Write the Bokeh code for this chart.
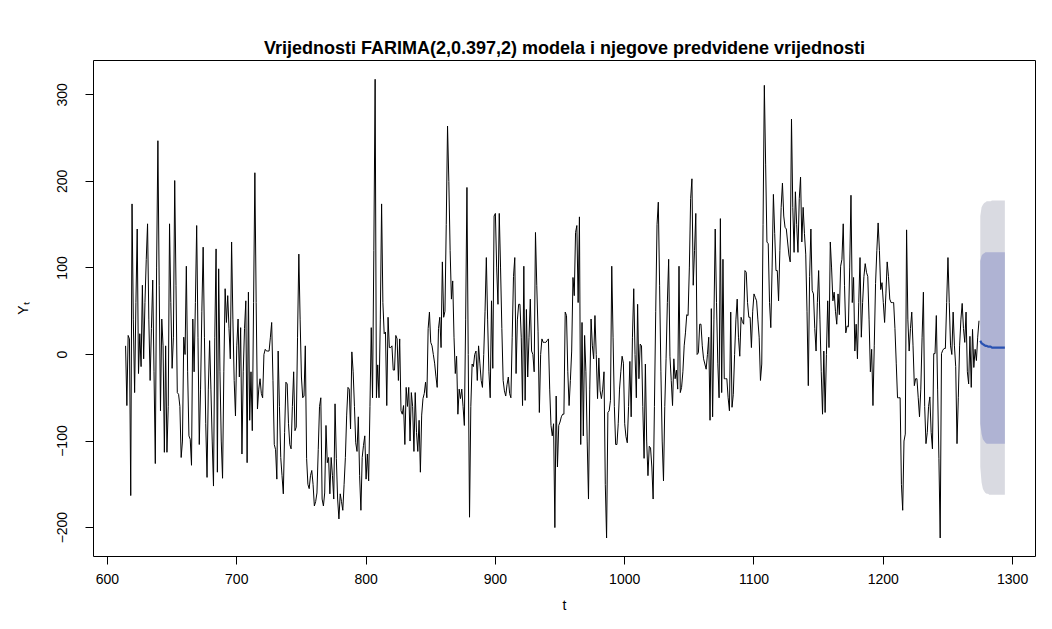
from bokeh.plotting import figure
from bokeh.models import Range1d, FixedTicker
from bokeh.embed import file_html
from bokeh.resources import INLINE

t_start = 614
seg1 = [10,-59,22,18,-163,174,40,-44,60,145,-22,24,-14,80,-5,60,110,151,40,-30,30,86,-20,-126,100,247,80,-65,41,10,-113,10,-113,-60,151,60,-16,20,201,80,-44,-46,-60,-119,-100,20,0,102,-20,-94,-98,-128,41,-20,60,149,20,-104]
seg2 = [-40,50,124,20,-80,-142,-40,16,-40,-100,-152,20,122,-136,99,-20,-100,-143,-20,76,37,68,30,-5,130,40,-30,-71,10,41,-26,31,-115,-20,30,62,-125,72,-76,-20,-88,60,210,60,-63,-40,-28,-45,-50,0,6,4,4,4,20,37,-30,-104,-110,-144,4,-60,-119]
seg3 = [-140,-161,-90,-32,-34,-80,-104,-109,-60,-20,-88,-84,20,116,40,-26,-50,-48,10,-120,-150,-155,-140,-134,-150,-175,-170,-160,-110,-60,-50,-167,-175,-160,-82,-125,-119,-161,-119,-140,-167,-57,-120,-167,-190,-161,-170,-180,-150,-119,-70,-38,-40,-86,3,-20,-60,-102,-112,-72,-140,-180]
seg4 = [-119,-105,-94,-144,-115,-146,-60,31,-50,120,318,-50,-12,-50,40,174,60,24,26,-59,43,8,8,10,-18,-18,22,18,-30,18,-65,-69,-59,-104,-38,-60,-38,-100,-44,-60,-112,-44,-90,-112,-76,-136,-70,-51,-45,-32,-50,30,49,14,10,0,-10,-25,-38,30,43,8]
seg5 = [107,43,50,150,264,200,120,64,85,20,-22,-2,-69,-40,-51,-40,-60,-82,40,193,0,-188,-60,-11,-14,0,4,-30,10,-10,-30,-38,0,50,112,40,-20,-50,62,-16,160,163,100,58,163,100,30,-30,-42,-48,-35,-26,-45,-50,20,90,112,-22,40,58,58]
seg6 = [20,-59,102,-53,52,-26,20,64,4,0,-20,141,80,27,-67,0,18,14,14,14,16,18,-40,-82,-94,-80,-200,-48,-130,-82,-78,-72,-69,-69,49,45,-20,-59,-30,4,89,68,141,149,60,159,-104,37,-94,22,-20,-100,-167,-40,41,10,-5,45,0,-51,-4,-42]
seg7 = [-51,-40,-20,-150,-212,-67,-65,-53,102,20,-60,-104,-104,-80,-40,-20,-2,-10,-80,-95,-102,-60,-8,-72,20,76,0,-50,58,-28,12,10,-60,-120,-11,-100,-140,-106,-108,-130,-167,-60,50,150,176,80,-20,-100,-146,-60,-5,60,110,-2,-30,-59,-5,-28,-18,-40,102,-44]
seg8 = [-38,-20,10,25,46,45,100,180,203,80,120,163,0,2,35,35,10,-5,-11,-17,0,20,-76,53,-72,40,145,60,-10,-50,157,-44,110,-28,-28,-28,-50,-65,49,-61,-46,0,40,64,20,-2,43,38,35,97,95,60,43,43,8,50,70,66,62,40,20,-30]
seg9 = [-11,150,311,220,130,128,60,31,100,185,140,97,97,62,120,170,198,160,147,145,130,115,107,272,170,118,188,150,118,180,205,130,170,140,116,50,-36,90,145,74,70,30,4,60,97,40,-20,-69,4,-67,0,62,8,130,100,62,72,50,35,70,46,102]
seg10 = [110,151,80,25,33,32,100,184,60,89,4,35,-5,60,112,20,60,90,105,95,90,40,-20,6,-59,10,82,120,152,120,75,83,60,37,70,107,90,64,60,60,60,30,-10,-50,-50,-50,-150,-180,-100,-92,144,40,4,30,49,10,-36,-28,-28,-50,-72,-40]
seg11 = [20,72,-60,-103,-90,-60,-49,-90,-109,1,1,45,-40,-120,-212,1,5,7,7,60,112,60,10,0,49,10,-14,-103,-50,10,40,59,30,14,49,-20,-34,21,-38,29,-15,6,-7,20,39]

# ---- forecast (mean and 80% / 95% intervals) ----
fc_mean = [16,13,12,11,10,10,9,9,9,8,8,8,8,8,8,8,8,8,8,8]
hi80 = [108,114,116,117,118,118,118,118,118,118,118,118,118,118,118,118,118,118,118,118]
lo80 = [-80,-92,-98,-100,-102,-103,-103,-103,-103,-103,-103,-103,-103,-103,-103,-103,-103,-103,-103,-103]
hi95 = [160,170,173,175,176,177,177,177,177,178,178,178,178,178,178,178,178,178,178,178]
lo95 = [-130,-148,-155,-158,-160,-161,-161,-162,-162,-162,-162,-162,-162,-162,-162,-162,-162,-162,-162,-162]

x_ticks = [600, 700, 800, 900, 1000, 1100, 1200, 1300]
y_ticks = [-200, -100, 0, 100, 200, 300]

title_text = "Vrijednosti FARIMA(2,0.397,2) modela i njegove predvidene vrijednosti"

series = seg1 + seg2 + seg3 + seg4 + seg5 + seg6 + seg7 + seg8 + seg9 + seg10 + seg11
t = list(range(t_start, t_start + len(series)))
fc_t = list(range(t[-1] + 1, t[-1] + 1 + len(fc_mean)))

FONT = "Liberation Sans"

p = figure(width=1044, height=621, output_backend="svg", toolbar_location=None,
           x_range=Range1d(589.2, 1317.7), y_range=Range1d(-233.4, 339.7),
           title=title_text)
p.min_border_left = 93
p.min_border_right = 9
p.min_border_top = 60
p.min_border_bottom = 65
p.background_fill_color = "white"
p.border_fill_color = "white"
p.outline_line_color = "black"
p.outline_line_width = 1
p.xgrid.visible = False
p.ygrid.visible = False

p.title.text_font = FONT
p.title.text_font_size = "18px"
p.title.text_font_style = "bold"
p.title.align = "center"
p.title.text_color = "black"
p.title.standoff = 6

for ax in (p.xaxis[0], p.yaxis[0]):
    ax.axis_line_color = None
    ax.major_tick_line_color = "black"
    ax.major_tick_out = 8
    ax.major_tick_in = 0
    ax.minor_tick_line_color = None
    ax.major_label_text_font = FONT
    ax.major_label_text_font_size = "14px"
    ax.major_label_text_color = "black"
    ax.axis_label_text_font = FONT
    ax.axis_label_text_font_size = "14px"
    ax.axis_label_text_font_style = "normal"
    ax.axis_label_text_color = "black"

p.xaxis.ticker = FixedTicker(ticks=x_ticks)
p.yaxis.ticker = FixedTicker(ticks=y_ticks)
p.yaxis.major_label_overrides = {v: (str(v).replace("-", "\u2212")) for v in y_ticks}
p.yaxis.major_label_orientation = "vertical"
p.xaxis.major_label_standoff = 9
p.yaxis.major_label_standoff = 18
p.xaxis.axis_label = "t"
p.yaxis.axis_label = "Y\u209c"
p.xaxis.axis_label_standoff = 10
p.yaxis.axis_label_standoff = 24

p.varea(x=fc_t, y1=lo95, y2=hi95, fill_color="#D9DAE1")
p.varea(x=fc_t, y1=lo80, y2=hi80, fill_color="#AFB3D3")
p.line(t, series, line_color="black", line_width=1)
p.line(fc_t, fc_mean, line_color="#2A52B2", line_width=2.2)

open("out.html", "w").write(file_html(p, INLINE))
